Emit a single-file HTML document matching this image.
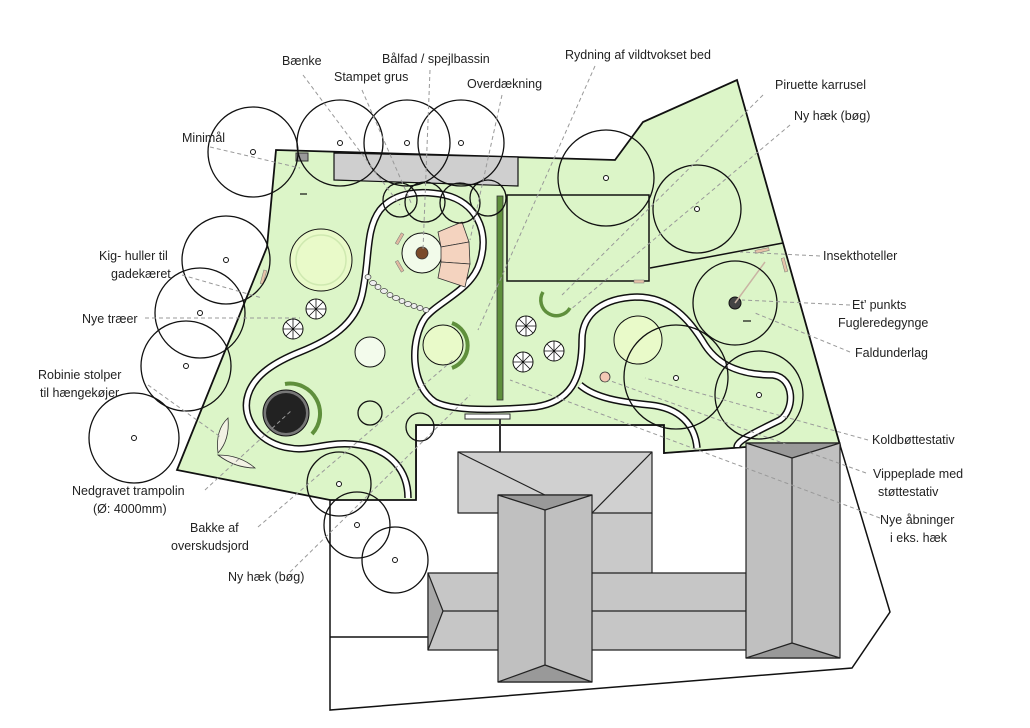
<!DOCTYPE html>
<html><head><meta charset="utf-8"><style>
html,body{margin:0;padding:0;background:#fff}
svg{display:block}
text{font-family:"Liberation Sans",sans-serif;font-size:12.5px;fill:#222}
</style></head><body>
<svg width="1030" height="728" viewBox="0 0 1030 728" xmlns="http://www.w3.org/2000/svg">
<polygon points="330,500 330,710 852,668 890,612 840,445 746,447 664,453 664,425 416,425 416,498" fill="#fff" stroke="#111" stroke-width="1.5"/>
<line x1="330" y1="637" x2="428" y2="637" stroke="#111" stroke-width="1.5"/>
<polygon points="276,150 615,160 643,122 737,80 840,445 746,447 664,453 664,425 416,425 416,500 330,500 177,470 267,247" fill="#dcf5c8" stroke="#111" stroke-width="1.8"/>
<rect x="507" y="195" width="142" height="86" fill="#dcf5c8" stroke="#111" stroke-width="1.5"/>
<line x1="650" y1="268" x2="783" y2="243" stroke="#111" stroke-width="1.5"/>
<rect x="634" y="280" width="10" height="3" fill="#e6c4a8" stroke="#777" stroke-width="0.5"/>
<polygon points="334,153 518,157 518,186 334,180" fill="#cfcfcf" stroke="#111" stroke-width="1.2"/>
<rect x="296" y="153" width="12" height="8" fill="#999" stroke="#333"/>
<circle cx="321" cy="260" r="31" fill="#e9fac9" stroke="#111" stroke-width="1"/>
<circle cx="321" cy="260" r="25" fill="none" stroke="#cfe9b0" stroke-width="1.5"/>
<circle cx="443" cy="345" r="20" fill="#e9fac9" stroke="#111" stroke-width="1"/>
<circle cx="638" cy="340" r="24" fill="#e9fac9" stroke="#111" stroke-width="1"/>
<circle cx="370" cy="352" r="15" fill="#f3fbec" stroke="#111" stroke-width="1"/>
<g fill="none" stroke-linejoin="round" stroke-linecap="butt">
<path d="M408,498 C408,470 390,450 360,445 C330,440 310,452 290,448 C262,445 240,420 248,395 C254,375 275,362 300,352 C330,340 355,325 362,295 C370,260 365,230 380,210 C395,192 420,190 445,195 C475,202 490,230 480,262 C472,290 440,300 425,318 C410,340 410,385 435,402 C455,412 500,410 535,407 C570,402 582,380 582,340 C582,312 605,298 637,297 C670,297 690,320 705,345 C720,368 745,375 773,375 C795,378 795,410 780,420 C760,430 737,440 737,447" stroke="#111" stroke-width="7.5"/>
<path d="M580,385 C595,398 620,402 650,405 C680,408 695,425 697,448" stroke="#111" stroke-width="7.5"/>
<path d="M408,498 C408,470 390,450 360,445 C330,440 310,452 290,448 C262,445 240,420 248,395 C254,375 275,362 300,352 C330,340 355,325 362,295 C370,260 365,230 380,210 C395,192 420,190 445,195 C475,202 490,230 480,262 C472,290 440,300 425,318 C410,340 410,385 435,402 C455,412 500,410 535,407 C570,402 582,380 582,340 C582,312 605,298 637,297 C670,297 690,320 705,345 C720,368 745,375 773,375 C795,378 795,410 780,420 C760,430 737,440 737,447" stroke="#fff" stroke-width="4.5"/>
<path d="M580,385 C595,398 620,402 650,405 C680,408 695,425 697,448" stroke="#fff" stroke-width="4.5"/>
</g>
<rect x="497" y="196" width="6" height="204" fill="#5f8f3c" stroke="#333" stroke-width="0.8"/>
<rect x="465" y="414" width="45" height="5" fill="#fff" stroke="#333" stroke-width="1"/>
<line x1="500" y1="419" x2="500" y2="452" stroke="#333" stroke-width="2"/>
<circle cx="422" cy="253" r="20" fill="#f2fbea" stroke="#111" stroke-width="1"/>
<circle cx="422" cy="253" r="6" fill="#7a4a2a" stroke="#333" stroke-width="0.8"/>
<g fill="#f4d3bf" stroke="#333" stroke-width="0.8">
<polygon points="438,232 462,222 469,242 441,247"/>
<polygon points="441,247 469,242 470,264 441,262"/>
<polygon points="441,262 470,264 465,287 438,278"/>
</g>
<rect x="398" y="233" width="3" height="12" fill="#e0b9a0" stroke="#777" stroke-width="0.5" transform="rotate(30 400 239)"/>
<rect x="398" y="260" width="3" height="12" fill="#e0b9a0" stroke="#777" stroke-width="0.5" transform="rotate(-30 400 266)"/>
<g fill="#eee" stroke="#444" stroke-width="0.7">
<ellipse cx="368" cy="277" rx="3" ry="2.5"/><ellipse cx="373" cy="283" rx="3.5" ry="2.5"/><ellipse cx="378" cy="287" rx="3" ry="2.5"/><ellipse cx="384" cy="291" rx="3.5" ry="2.5"/><ellipse cx="390" cy="295" rx="3" ry="2.5"/><ellipse cx="396" cy="298" rx="3.5" ry="2.5"/><ellipse cx="402" cy="301" rx="3" ry="2.5"/><ellipse cx="408" cy="304" rx="3.5" ry="2.5"/><ellipse cx="414" cy="306" rx="3" ry="2.5"/><ellipse cx="420" cy="308" rx="3" ry="2.5"/><ellipse cx="426" cy="310" rx="3" ry="2.5"/>
</g>
<circle cx="286" cy="413" r="23" fill="#777" stroke="#111" stroke-width="1"/>
<circle cx="286" cy="413" r="20" fill="#222"/>
<path d="M285,384 A30,30 0 0 1 312,434" fill="none" stroke="#5f8f3c" stroke-width="4"/>
<path d="M452,323 A24,24 0 0 1 452,368" fill="none" stroke="#5f8f3c" stroke-width="4"/>
<path d="M543,292 A13,13 0 0 0 570,308" fill="none" stroke="#5f8f3c" stroke-width="3.5"/>
<g fill="#f2f2e4" stroke="#333" stroke-width="0.8">
<path d="M218,453 Q215,430 228,418 Q230,440 218,453Z"/>
<path d="M218,455 Q240,455 255,468 Q235,468 218,455Z"/>
</g>
<g fill="#fff" stroke="#111" stroke-width="1">
<circle cx="316" cy="309" r="10"/><circle cx="293" cy="329" r="10"/><circle cx="526" cy="326" r="10"/><circle cx="554" cy="351" r="10"/><circle cx="523" cy="362" r="10"/>
</g>
<g stroke="#111" stroke-width="0.8">
<path d="M306,309h20M316,299v20M309,302l14,14M323,302l-14,14"/><path d="M283,329h20M293,319v20M286,322l14,14M300,322l-14,14"/><path d="M516,326h20M526,316v20M519,319l14,14M533,319l-14,14"/><path d="M544,351h20M554,341v20M547,344l14,14M561,344l-14,14"/><path d="M513,362h20M523,352v20M516,355l14,14M530,355l-14,14"/>
</g>
<circle cx="735" cy="303" r="6" fill="#444" stroke="#111"/>
<line x1="735" y1="303" x2="765" y2="262" stroke="#c9b3a3" stroke-width="1.5"/>
<rect x="755" y="249" width="14" height="3" fill="#e6c4a8" stroke="#777" stroke-width="0.5" transform="rotate(-12 762 250)"/>
<rect x="783" y="258" width="3" height="14" fill="#e6c4a8" stroke="#777" stroke-width="0.5" transform="rotate(-15 784 265)"/>
<rect x="262" y="270" width="3" height="14" fill="#e6c4a8" stroke="#777" stroke-width="0.5" transform="rotate(15 263 277)"/>
<circle cx="605" cy="377" r="5" fill="#f4c9b5" stroke="#333" stroke-width="0.8"/>
<line x1="743" y1="321" x2="751" y2="321" stroke="#111" stroke-width="1.2"/>
<line x1="300" y1="194" x2="307" y2="194" stroke="#111" stroke-width="1.2"/>
<!-- buildings -->
<g stroke="#222" stroke-width="1.2" stroke-linejoin="round">
<rect x="592" y="510" width="60" height="66" fill="#c9c9c9" stroke="none"/>
<line x1="652" y1="513" x2="652" y2="575"/>
<polygon points="458,452 652,452 652,513 458,513" fill="#d0d0d0"/>
<line x1="458" y1="452" x2="555" y2="500"/>
<line x1="652" y1="452" x2="592" y2="513"/>
<polygon points="428,573 746,573 746,650 428,650" fill="#c6c6c6"/>
<polygon points="428,573 443,611 428,650" fill="#a8a8a8"/>
<line x1="443" y1="611" x2="746" y2="611"/>
<rect x="498" y="495" width="94" height="187" fill="#c0c0c0"/>
<polygon points="498,495 592,495 545,510" fill="#999"/>
<polygon points="498,682 592,682 545,665" fill="#999"/>
<line x1="545" y1="510" x2="545" y2="665"/>
<rect x="746" y="443" width="94" height="215" fill="#c0c0c0"/>
<polygon points="746,443 840,443 792,458" fill="#999"/>
<polygon points="746,658 840,658 792,643" fill="#999"/>
<line x1="792" y1="458" x2="792" y2="643"/>
</g>
<g fill="none" stroke="#111" stroke-width="1.3">
<circle cx="253" cy="152" r="45"/><circle cx="340" cy="143" r="43"/><circle cx="407" cy="143" r="43"/><circle cx="461" cy="143" r="43"/>
<circle cx="226" cy="260" r="44"/><circle cx="200" cy="313" r="45"/><circle cx="186" cy="366" r="45"/><circle cx="134" cy="438" r="45"/>
<circle cx="606" cy="178" r="48"/><circle cx="697" cy="209" r="44"/><circle cx="735" cy="303" r="42"/><circle cx="676" cy="377" r="52"/><circle cx="759" cy="395" r="44"/>
<circle cx="339" cy="484" r="32"/><circle cx="357" cy="525" r="33"/><circle cx="395" cy="560" r="33"/>
<circle cx="400" cy="200" r="17"/><circle cx="425" cy="202" r="20"/><circle cx="460" cy="203" r="20"/><circle cx="488" cy="198" r="18"/>
<circle cx="370" cy="413" r="12"/><circle cx="420" cy="427" r="14"/>
</g>
<g fill="#fff" stroke="#111" stroke-width="1">
<circle cx="253" cy="152" r="2.5"/><circle cx="340" cy="143" r="2.5"/><circle cx="407" cy="143" r="2.5"/><circle cx="461" cy="143" r="2.5"/>
<circle cx="226" cy="260" r="2.5"/><circle cx="200" cy="313" r="2.5"/><circle cx="186" cy="366" r="2.5"/><circle cx="134" cy="438" r="2.5"/>
<circle cx="606" cy="178" r="2.5"/><circle cx="697" cy="209" r="2.5"/><circle cx="676" cy="378" r="2.5"/><circle cx="759" cy="395" r="2.5"/>
<circle cx="339" cy="484" r="2.5"/><circle cx="357" cy="525" r="2.5"/><circle cx="395" cy="560" r="2.5"/>
</g>
<g stroke="#999" stroke-width="1" stroke-dasharray="4,3" fill="none">
<path d="M303,75 L400,205"/><path d="M362,90 L412,205"/><path d="M430,70 L423,250"/><path d="M502,95 L470,240"/>
<path d="M595,66 L478,330"/><path d="M763,95 L562,295"/><path d="M790,125 L570,310"/>
<path d="M210,147 L300,168"/><path d="M182,275 L262,298"/><path d="M145,318 L300,318"/><path d="M148,385 L222,438"/>
<path d="M205,490 L292,410"/><path d="M258,527 L453,360"/><path d="M290,572 L470,395"/>
<path d="M820,256 L740,252"/><path d="M850,305 L742,300"/><path d="M850,352 L755,313"/>
<path d="M868,440 L645,378"/><path d="M866,473 L608,380"/><path d="M880,518 L510,380"/>
</g>
<text x="282" y="65">Bænke</text>
<text x="382" y="63">Bålfad / spejlbassin</text>
<text x="334" y="81">Stampet grus</text>
<text x="467" y="88">Overdækning</text>
<text x="565" y="59">Rydning af vildtvokset bed</text>
<text x="775" y="89">Piruette karrusel</text>
<text x="794" y="120">Ny hæk (bøg)</text>
<text x="182" y="142">Minimål</text>
<text x="99" y="260">Kig- huller til</text>
<text x="111" y="278">gadekæret</text>
<text x="82" y="323">Nye træer</text>
<text x="38" y="379">Robinie stolper</text>
<text x="40" y="397">til hængekøjer</text>
<text x="72" y="495">Nedgravet trampolin</text>
<text x="93" y="513">(Ø: 4000mm)</text>
<text x="190" y="532">Bakke af</text>
<text x="171" y="550">overskudsjord</text>
<text x="228" y="581">Ny hæk (bøg)</text>
<text x="823" y="260">Insekthoteller</text>
<text x="852" y="309">Et’ punkts</text>
<text x="838" y="327">Fugleredegynge</text>
<text x="855" y="357">Faldunderlag</text>
<text x="872" y="444">Koldbøttestativ</text>
<text x="873" y="478">Vippeplade med</text>
<text x="878" y="496">støttestativ</text>
<text x="880" y="524">Nye åbninger</text>
<text x="890" y="542">i eks. hæk</text>
</svg>
</body></html>
